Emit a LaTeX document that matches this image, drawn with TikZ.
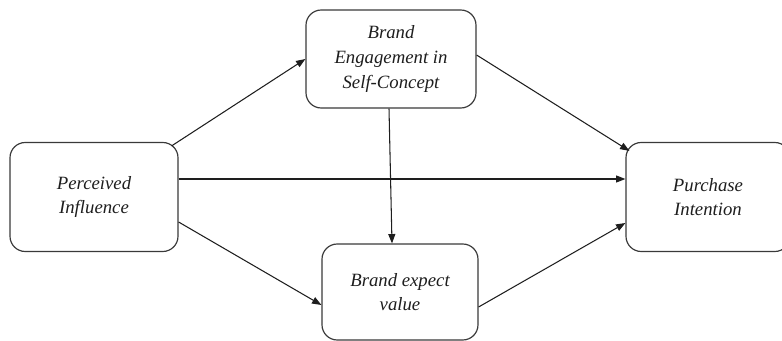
\documentclass[tikz,border=0pt]{standalone}
\usepackage{fontspec}
\setmainfont{Liberation Serif}
\usepackage{tikz}
\usetikzlibrary{arrows.meta,calc}
\definecolor{ink}{HTML}{1E1E1E}
\definecolor{edge}{HTML}{3A3A3A}

\begin{document}
\begin{tikzpicture}[x=0.03cm,y=-0.03cm,
    factor/.style={draw=edge, line width=1pt, rounded corners=13pt, fill=white,
                   align=center, text=ink, inner sep=0pt,
                   font=\fontsize{16}{21}\selectfont\itshape},
    link/.style={draw=ink, line width=0.9pt, -{Triangle[length=8pt,width=6pt]}}]
  \useasboundingbox (0,0) rectangle (782,341);

  % the four constructs
  \node[factor, minimum width=5.04cm, minimum height=3.27cm] (pi)  at (94,197)  {Perceived\\Influence};
  \node[factor, minimum width=5.1cm,  minimum height=2.94cm] (bec) at (391,59)  {Brand\\Engagement in\\Self-Concept};
  \node[factor, minimum width=4.92cm, minimum height=3.27cm] (pin) at (708,197) {Purchase\\Intention};
  \node[factor, minimum width=4.68cm, minimum height=2.88cm] (bev) at (400,292) {Brand expect\\value};

  % paths
  \draw[link] ($(pi.north east)+(-7,4)$) -- (bec.west);
  \draw[link] ($(pi.east)+(0,-18)$) -- ($(pin.west)+(0,-18)$);
  \draw[link] ($(pi.east)+(0,25)$) -- ($(bev.west)+(0,13)$);
  \draw[link] ($(bec.south)+(-2,0)$) -- ($(bev.north)+(-8,0)$);
  \draw[link] ($(bec.east)+(0,-4)$) -- ($(pin.north west)+(4,9)$);
  \draw[link] ($(bev.east)+(0,15)$) -- ($(pin.west)+(0,26)$);
\end{tikzpicture}
\end{document}
